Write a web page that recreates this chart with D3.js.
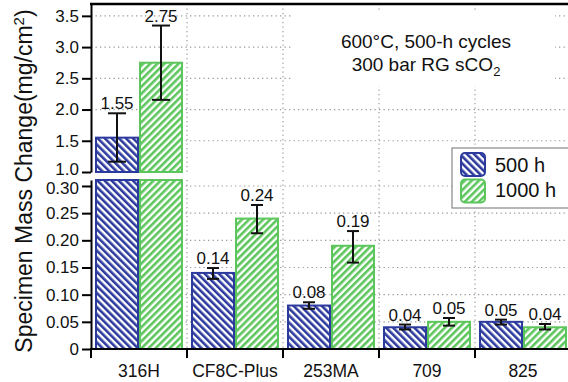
<!DOCTYPE html>
<html>
<head>
<meta charset="utf-8">
<script src="https://cdn.jsdelivr.net/npm/d3@7"></script>
<style>
  body { margin: 0; background: #fff; }
  text { font-family: "Liberation Sans", Arial, Helvetica, sans-serif; fill: #111; }
  .grid { stroke: #9a9a9a; stroke-width: 1.2; stroke-dasharray: 1.3 3.2; fill: none; }
  .axis path, .axis line { stroke: #000; stroke-width: 2; }
  .axis text { font-size: 17px; fill: #111; }
</style>
</head>
<body>
<script>
// data
var alloys = ["316H", "CF8C-Plus", "253MA", "709", "825"];
var series = ["500 h", "1000 h"];
var mass500 = [1.55, 0.14, 0.08, 0.04, 0.05];
var mass1000 = [2.75, 0.24, 0.19, 0.05, 0.04];
var err500Lo = [1.165, 0.129, 0.074, 0.036, 0.045];
var err500Hi = [1.94, 0.149, 0.086, 0.045, 0.054];
var err1000Lo = [2.155, 0.213, 0.159, 0.043, 0.036];
var err1000Hi = [3.345, 0.265, 0.217, 0.057, 0.046];
var upperTicks = [1.0, 1.5, 2.0, 2.5, 3.0, 3.5];
var lowerTicks = [0, 0.05, 0.10, 0.15, 0.20, 0.25, 0.30];
var colors = ["#2c3a9e", "#5cc65c"];

var width = 568, height = 382;
var svg = d3.select("body").append("svg").attr("width", width).attr("height", height);

var x = d3.scaleBand().domain(alloys).range([91, 571]);
var xs = d3.scaleBand().domain(series).range([4, x.bandwidth() - 4]);
var yUp = d3.scaleLinear().domain([1.0, 3.69]).range([172, 4]);
var yLo = d3.scaleLinear().domain([0, 0.311]).range([349, 180]);
var breakVal = 0.311;

// hatch patterns
var defs = svg.append("defs");
series.forEach(function (s, i) {
  var p = defs.append("pattern")
    .attr("id", "hatch" + i)
    .attr("patternUnits", "userSpaceOnUse")
    .attr("width", 5).attr("height", 5)
    .attr("patternTransform", "rotate(" + (i == 0 ? -45 : 45) + ")");
  p.append("rect").attr("width", 5).attr("height", 5).attr("fill", "#fff");
  p.append("rect").attr("width", 2.6).attr("height", 5).attr("fill", colors[i]);
});

// grid
var gx = alloys.slice(1).map(function (a) { return x(a); });
svg.selectAll(".hg-up").data(upperTicks.slice(1)).enter().append("line")
  .attr("class", "grid").attr("x1", 91).attr("x2", width)
  .attr("y1", function (d) { return yUp(d); }).attr("y2", function (d) { return yUp(d); });
svg.selectAll(".hg-lo").data(lowerTicks.slice(1)).enter().append("line")
  .attr("class", "grid").attr("x1", 91).attr("x2", width)
  .attr("y1", function (d) { return yLo(d); }).attr("y2", function (d) { return yLo(d); });
gx.forEach(function (gxv) {
  svg.append("line").attr("class", "grid").attr("x1", gxv).attr("x2", gxv).attr("y1", 4).attr("y2", 172);
  svg.append("line").attr("class", "grid").attr("x1", gxv).attr("x2", gxv).attr("y1", 180).attr("y2", 349);
});

// annotation box
svg.append("rect").attr("x", 292).attr("y", 12).attr("width", 263).attr("height", 74).attr("fill", "#fff");
svg.append("text").attr("x", 426).attr("y", 48).attr("text-anchor", "middle")
  .style("font-size", "19px").text("600°C, 500-h cycles");
var t2 = svg.append("text").attr("x", 426).attr("y", 71).attr("text-anchor", "middle").style("font-size", "19px");
t2.append("tspan").text("300 bar RG sCO");
t2.append("tspan").attr("dy", 5).style("font-size", "13px").text("2");

// bars
var rows = [];
alloys.forEach(function (a, i) {
  rows.push({ alloy: a, s: 0, v: mass500[i], lo: err500Lo[i], hi: err500Hi[i] });
  rows.push({ alloy: a, s: 1, v: mass1000[i], lo: err1000Lo[i], hi: err1000Hi[i] });
});

var bars = svg.append("g");
rows.forEach(function (d) {
  var bx = x(d.alloy) + xs(series[d.s]);
  var bw = xs.bandwidth();
  var top = d.v > breakVal ? yLo(breakVal) : yLo(d.v);
  bars.append("rect").attr("x", bx + 1).attr("y", top).attr("width", bw - 2).attr("height", yLo(0) - top)
    .attr("fill", "url(#hatch" + d.s + ")").attr("stroke", colors[d.s]).attr("stroke-width", 2);
  if (d.v > breakVal) {
    bars.append("rect").attr("x", bx + 1).attr("y", yUp(d.v)).attr("width", bw - 2).attr("height", yUp(1.0) - yUp(d.v))
      .attr("fill", "url(#hatch" + d.s + ")").attr("stroke", colors[d.s]).attr("stroke-width", 2);
  }
  var ys = d.v > breakVal ? yUp : yLo;
  var cx = bx + bw / 2;
  var capW = d.v > breakVal ? 9 : 6;
  bars.append("line").attr("x1", cx).attr("x2", cx).attr("y1", ys(d.lo)).attr("y2", ys(d.hi))
    .attr("stroke", "#111").attr("stroke-width", 2);
  [d.lo, d.hi].forEach(function (e) {
    bars.append("line").attr("x1", cx - capW).attr("x2", cx + capW).attr("y1", ys(e)).attr("y2", ys(e))
      .attr("stroke", "#111").attr("stroke-width", 2);
  });
  bars.append("text").attr("x", cx).attr("y", ys(d.hi) - 4).attr("text-anchor", "middle")
    .style("font-size", "17px").text(d3.format(".2f")(d.v));
});

// gap between panels
svg.append("rect").attr("x", 0).attr("y", 173).attr("width", width).attr("height", 6).attr("fill", "#fff");

// axes
var upAx = svg.append("g").attr("class", "axis").attr("transform", "translate(91,0)")
  .call(d3.axisLeft(yUp).tickValues(upperTicks).tickSize(9).tickSizeOuter(0).tickPadding(3)
    .tickFormat(d3.format(".1f")));
upAx.selectAll(".tick text").filter(function (d) { return d === 1.0; }).attr("dy", "0.12em");
var loAx = svg.append("g").attr("class", "axis").attr("transform", "translate(91,0)")
  .call(d3.axisLeft(yLo).tickValues(lowerTicks).tickSize(9).tickSizeOuter(0).tickPadding(3)
    .tickFormat(function (d) { return d === 0 ? "0" : d3.format(".2f")(d); }));
loAx.selectAll(".tick text").filter(function (d) { return d === 0.30; }).attr("dy", "0.45em");

// top border and x axis
svg.append("line").attr("x1", 90).attr("x2", width).attr("y1", 4).attr("y2", 4)
  .attr("stroke", "#000").attr("stroke-width", 2.5);
svg.append("line").attr("x1", 90).attr("x2", width).attr("y1", 349).attr("y2", 349)
  .attr("stroke", "#000").attr("stroke-width", 2);
svg.selectAll(".xtick").data(alloys).enter().append("line")
  .attr("x1", function (d) { return x(d); }).attr("x2", function (d) { return x(d); })
  .attr("y1", 349).attr("y2", 358).attr("stroke", "#000").attr("stroke-width", 2);
svg.selectAll(".xlab").data(alloys).enter().append("text")
  .attr("x", function (d) { return x(d) + x.bandwidth() / 2; }).attr("y", 377)
  .attr("text-anchor", "middle").style("font-size", "17.5px").text(function (d) { return d; });

// y label
var yl = svg.append("text").attr("transform", "translate(32,181) rotate(-90)")
  .attr("text-anchor", "middle").style("font-size", "23px");
yl.append("tspan").text("Specimen Mass Change(mg/cm");
yl.append("tspan").attr("dy", -8).style("font-size", "15px").text("2");
yl.append("tspan").attr("dy", 8).text(")");

// legend
var lg = svg.append("g");
lg.append("rect").attr("x", 452).attr("y", 148).attr("width", 130).attr("height", 60)
  .attr("fill", "#fff").attr("stroke", "#888").attr("stroke-width", 1.2);
series.forEach(function (s, i) {
  lg.append("rect").attr("x", 461).attr("y", 153 + i * 26.5).attr("width", 24).attr("height", 23).attr("rx", 4)
    .attr("fill", "url(#hatch" + i + ")").attr("stroke", colors[i]).attr("stroke-width", 2);
  lg.append("text").attr("x", 495).attr("y", 172 + i * 25).style("font-size", "20px").text(s);
});
</script>
</body>
</html>
